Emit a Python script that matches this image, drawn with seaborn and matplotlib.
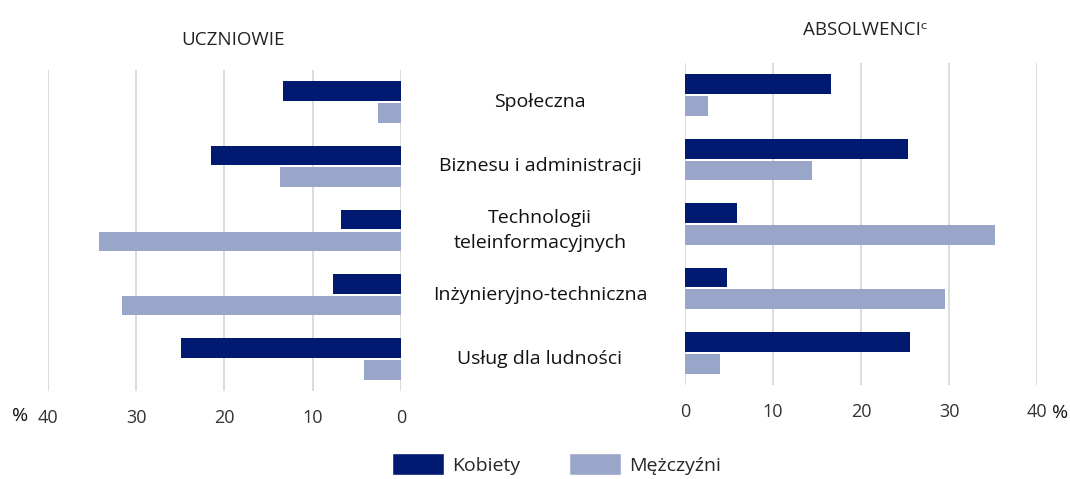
import numpy as np
import pandas as pd
import matplotlib
matplotlib.use('Agg')
import matplotlib.pyplot as plt
import seaborn as sns
from matplotlib.patches import Patch

categories = ['Społeczna', 'Biznesu i administracji', 'Technologii\nteleinformacyjnych',
              'Inżynieryjno-techniczna', 'Usług dla ludności']
series = ['Kobiety', 'Mężczyźni']
uczniowie_k = [13.4, 21.5, 6.8, 7.7, 24.9]
uczniowie_m = [2.6, 13.7, 34.2, 31.6, 4.2]
absolwenci_k = [16.6, 25.3, 5.9, 4.8, 25.6]
absolwenci_m = [2.6, 14.4, 35.2, 29.5, 4.0]
ticks = [0, 10, 20, 30, 40]

colors = ['#001a72', '#9aa6c9']

sns.set_style('white')
plt.rcParams['font.family'] = ['Open Sans', 'DejaVu Sans']


def to_long(k, m):
    df = pd.DataFrame({'kategoria': categories, 'Kobiety': k, 'Mężczyźni': m})
    return df.melt(id_vars='kategoria', var_name='płeć', value_name='udział')


fig = plt.figure(figsize=(10.7, 4.79), dpi=100)
ax_l = fig.add_axes([48 / 1070, 1 - 391 / 479, 353 / 1070, 321 / 479])
ax_r = fig.add_axes([685 / 1070, 1 - 385 / 479, 352 / 1070, 322 / 479])

for ax, (k, m) in zip([ax_l, ax_r], [(uczniowie_k, uczniowie_m), (absolwenci_k, absolwenci_m)]):
    sns.barplot(data=to_long(k, m), y='kategoria', x='udział', hue='płeć', orient='h',
                palette=colors, hue_order=series, order=categories,
                width=0.68, gap=0.1, saturation=1, linewidth=0, legend=False, ax=ax, zorder=3)
    ax.set_xlim(0, 40)
    ax.set_ylim(4.5, -0.5)
    ax.set_xticks(ticks)
    ax.set_xticklabels([str(t) for t in ticks], fontsize=13, color='#333333')
    ax.tick_params(axis='x', length=0, pad=13)
    ax.set_yticks([])
    ax.set_xlabel('')
    ax.set_ylabel('')
    ax.grid(axis='x', color='#d9d9d9', linewidth=1.3, zorder=0)
    ax.set_axisbelow(True)
    for s in ax.spines.values():
        s.set_visible(False)

ax_l.invert_xaxis()

# category labels between panels
for i, cat in enumerate(categories):
    y = ax_l.transData.transform((0, i))[1]
    fig.text(540 / 1070, y / fig.dpi / 4.79, cat, ha='center', va='center', fontsize=14,
             color='#111111', linespacing=1.45)

fig.text(233 / 1070, 1 - 40 / 479, 'UCZNIOWIE', ha='center', va='center', fontsize=13.5, color='#222222')
fig.text(865 / 1070, 1 - 30 / 479, 'ABSOLWENCIᶜ', ha='center', va='center', fontsize=13.5, color='#222222')
fig.text(20 / 1070, 1 - 416 / 479, '%', ha='center', va='center', fontsize=14, color='#111111')
fig.text(1060 / 1070, 1 - 413 / 479, '%', ha='center', va='center', fontsize=14, color='#111111')

handles = [Patch(facecolor=c, label=s) for c, s in zip(colors, series)]
fig.legend(handles=handles, loc='center', bbox_to_anchor=(0.52, 1 - 464 / 479), ncol=2,
           frameon=False, fontsize=14, handlelength=2.7, handleheight=1.3, columnspacing=2.5,
           handletextpad=0.4)

fig.savefig('out.png', dpi=100)
